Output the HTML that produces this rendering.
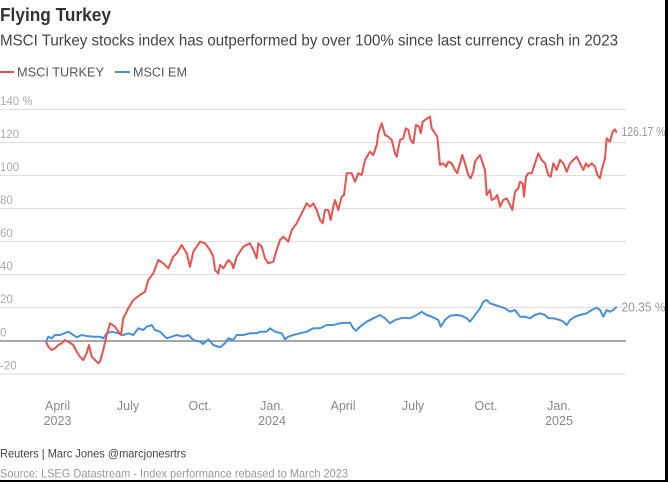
<!DOCTYPE html>
<html><head><meta charset="utf-8"><style>
html,body{margin:0;padding:0;background:#fff;}
svg{display:block;}
text{font-family:"Liberation Sans",sans-serif;}
</style></head><body>
<svg width="668" height="482" viewBox="0 0 668 482" xmlns="http://www.w3.org/2000/svg">
<rect width="668" height="482" fill="#fff"/>
<text x="0" y="21" font-size="18" font-weight="bold" fill="#333" textLength="111" lengthAdjust="spacingAndGlyphs">Flying Turkey</text>
<text x="0" y="45.5" font-size="16" fill="#444" textLength="618" lengthAdjust="spacingAndGlyphs">MSCI Turkey stocks index has outperformed by over 100% since last currency crash in 2023</text>
<line x1="0" y1="72" x2="14" y2="72" stroke="#e8534e" stroke-width="2"/>
<text x="17" y="76.5" font-size="13" fill="#555" textLength="87" lengthAdjust="spacingAndGlyphs">MSCI TURKEY</text>
<line x1="115" y1="72" x2="130" y2="72" stroke="#4a90d9" stroke-width="2"/>
<text x="133" y="76.5" font-size="13" fill="#555" textLength="54" lengthAdjust="spacingAndGlyphs">MSCI EM</text>
<g stroke="#e0e0e0" stroke-width="1.3">
<line x1="0" y1="109.5" x2="626" y2="109.5"/>
<line x1="0" y1="142.5" x2="626" y2="142.5"/>
<line x1="0" y1="175.5" x2="626" y2="175.5"/>
<line x1="0" y1="208.5" x2="626" y2="208.5"/>
<line x1="0" y1="241.5" x2="626" y2="241.5"/>
<line x1="0" y1="274.5" x2="626" y2="274.5"/>
<line x1="0" y1="307.5" x2="626" y2="307.5"/>
<line x1="0" y1="374" x2="626" y2="374"/>
</g>
<line x1="0" y1="341" x2="626" y2="341" stroke="#8a8a8a" stroke-width="1.5"/>
<g font-size="11.5" fill="#aaa">
<text x="0" y="105">140 %</text>
<text x="0" y="138">120</text>
<text x="0" y="171">100</text>
<text x="0" y="204">80</text>
<text x="0" y="237">60</text>
<text x="0" y="270">40</text>
<text x="0" y="303">20</text>
<text x="0" y="336.5">0</text>
<text x="0" y="369.5">-20</text>
</g>
<polyline fill="none" stroke="#4a90d9" stroke-width="2" stroke-linejoin="round" points="46,341.7 48.3,336.7 51.7,338.3 55,335 60,335 68.3,331.7 73.3,335 76.7,337.3 81.7,335 86.7,336 93.3,336.7 100,336.7 103.3,338.3 106.7,333.3 111.7,331.7 118.3,333.3 123.3,335 128.3,333.3 133.3,335 138.3,328.3 143.3,330 146.7,326.7 151.7,325 155,330 160,331.7 166.7,338.3 171.7,336.7 176.7,335 183.3,336.7 188.3,335 193.3,340 200,341.7 203.3,344 208.3,339.3 213.3,345 220,347.3 225,343.3 228.3,338.3 233.3,340 236.7,335 243.3,335 250,333.3 256.7,333.3 260,331.7 266.7,331.7 270,328.3 275,331.7 281.7,333.3 285,339.3 288.3,336.7 293.3,335 300,333.3 306.7,331.7 313.3,328.3 320,328.3 326.7,325 333.3,325 340,323.3 350,322.7 353.3,328.3 356,330.7 360,326.7 366.7,321.7 373.3,318.3 380,315 385,318.3 390,323.3 395,320 403.3,317.7 410,318.3 416.7,315 421.7,311.7 426.7,315 431.7,316.7 435,318.3 438.3,320 440.7,326.7 445,320 450,315.7 456.7,315 461.7,315.7 466.7,318.3 470,321.7 475,315 480,308.3 483.3,301.7 486.7,300 490,303.3 495,305 500,306.7 505,308.3 510,311.7 515,310 520,316.7 525,316.7 530,318.3 535,315 540,313.3 545,315 548.3,318.3 553.3,318.3 560,320 563.3,321.7 566.7,325 570,320 575,316.7 580,315 586.7,313.3 591.7,310 596.7,307.7 600,310 603.3,316.7 606.7,310 610,311.7 613.3,310 616.7,306.7"/>
<polyline fill="none" stroke="#e8534e" stroke-width="2" stroke-linejoin="round" points="46,341.7 48.3,346.7 51.7,350 55,348.3 58.3,345 61.7,343.3 65,340 68.3,341.7 73.3,345 76.7,351.7 80,356.7 83.3,360 86.7,353.3 89,345 91.7,356.7 95,360 98.3,363.3 100,361.7 103.3,350 106.7,335 110,323.3 115,326.7 118.3,331.7 121,335 123.3,318.3 128.3,308.3 133.3,300 140,295 145,291.7 148.3,280 153.3,273.3 158.3,260 163.3,263.3 168.3,268.3 173.3,256.7 176.7,253.3 181.7,245 186.7,253.3 190,266.7 193.3,251.7 200,241.7 205,243.3 210,250 213.3,256.7 215,270 218.3,273.3 220,265 223.3,268.3 228.3,260 231.7,263.3 233.3,268.3 236.7,256.7 243.3,246.7 250,243.3 253.3,250 256.7,258.3 258.3,243.3 261.7,246.7 265,258.3 268.3,263.3 273.3,261.7 276.7,250 280,240 283.3,236.7 288.3,241.7 291.7,230 296.7,223.3 301.7,213.3 306.7,203.3 310,206.7 313.3,203.3 316.7,210 320,220 322.7,223.3 325,210 328.3,210 330.7,220 333.3,206.7 335,200 338.3,210 341.7,196.7 344,195 346.7,173.3 351.7,173.3 355,181.7 358.3,173.3 361.7,175 365,160 370,151.7 373.3,155 376.7,145 378.3,133.3 381.7,123.3 385,135 388.3,136.7 391.7,140 395,153.3 396.7,156.7 400,140 403.3,138.3 405.7,128.3 408.3,130 410.7,140 413.3,143.3 416,125 419.3,126.7 420.7,133.3 422.7,121.7 425,120 428.3,117.7 430,116.7 431.7,128.3 435,133.3 437.3,136.7 440,165 443.3,163.3 446,166.7 448.3,161.7 451.7,163.3 455,170 457.3,173.3 460,163.3 462.3,155 465,163.3 468.3,175 470.7,178.3 473.3,171.7 475,161.7 477.3,158.3 480,155 482.7,163.3 485,170 486.7,195 490,190 491.7,200 495,198.3 497.3,195 500,206.7 503.3,200 506.7,198.3 510,205 512.3,210 515,191.7 518.3,188.3 520,181.7 522.7,183.3 524,196.7 526,176.7 528.3,173.3 531.7,173.3 535,163.3 538.3,153.3 541.7,160 545,163.3 548.3,175 550.7,176.7 553.3,163.3 556.7,170 560,160 563.3,163.3 566.7,171.7 570,163.3 573.3,160 576.7,156.7 580,163.3 583.3,170 586,163.3 588.3,166.7 591.7,163.3 595,166.7 597.3,175 600,178.3 601.7,170 605,158.3 606.7,138.3 610,141.7 612.7,131.7 615,129.3 616.7,132.7"/>
<text x="621.5" y="136" font-size="12.5" fill="#999" textLength="44" lengthAdjust="spacingAndGlyphs">126.17 %</text>
<text x="621.5" y="311.5" font-size="12.5" fill="#999" textLength="44" lengthAdjust="spacingAndGlyphs">20.35 %</text>
<g font-size="12.5" fill="#888" text-anchor="middle">
<text x="57.5" y="410">April</text>
<text x="57.5" y="425">2023</text>
<text x="128" y="410">July</text>
<text x="200" y="410">Oct.</text>
<text x="272" y="410">Jan.</text>
<text x="272" y="425">2024</text>
<text x="343" y="410">April</text>
<text x="413" y="410">July</text>
<text x="486" y="410">Oct.</text>
<text x="559" y="410">Jan.</text>
<text x="559" y="425">2025</text>
</g>
<text x="0" y="457.5" font-size="12" fill="#444" textLength="186" lengthAdjust="spacingAndGlyphs">Reuters | Marc Jones @marcjonesrtrs</text>
<text x="0" y="477.5" font-size="12" fill="#999" textLength="348" lengthAdjust="spacingAndGlyphs">Source: LSEG Datastream - Index performance rebased to March 2023</text>
<rect x="665" y="0" width="3" height="482" fill="#000"/>
<rect x="0" y="480" width="668" height="2" fill="#000"/>
</svg>
</body></html>
